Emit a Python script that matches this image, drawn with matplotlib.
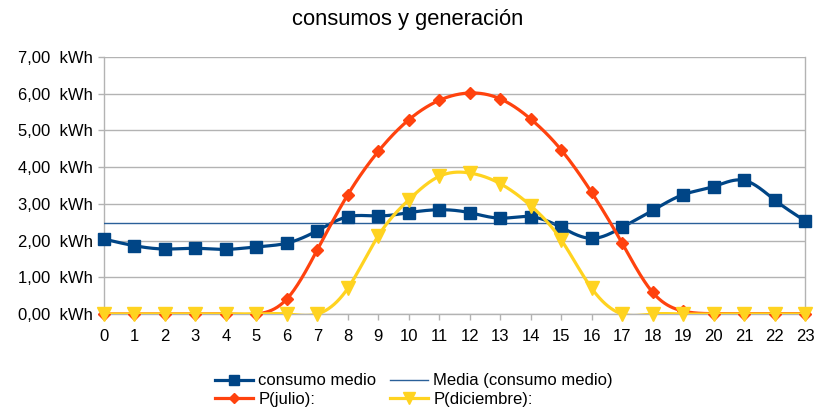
import numpy as np
import matplotlib
matplotlib.use("Agg")
import matplotlib.pyplot as plt
from matplotlib.lines import Line2D

plt.rcParams['font.family'] = ['Liberation Sans', 'DejaVu Sans']

horas = list(range(24))
consumo_medio = [2.04, 1.86, 1.77, 1.79, 1.76, 1.83, 1.93, 2.27, 2.65, 2.67, 2.76, 2.84,
                 2.76, 2.61, 2.65, 2.36, 2.06, 2.36, 2.82, 3.25, 3.47, 3.64, 3.11, 2.54]
p_julio = [0, 0, 0, 0, 0, 0, 0.41, 1.75, 3.25, 4.43, 5.29, 5.82,
           6.02, 5.86, 5.31, 4.47, 3.31, 1.93, 0.59, 0.08, 0.01, 0.01, 0.01, 0.01]
p_diciembre = [0, 0, 0, 0, 0, 0, 0, 0, 0.70, 2.13, 3.11, 3.75,
               3.84, 3.55, 2.95, 2.02, 0.70, 0, 0, 0, 0, 0, 0, 0]
y_ticks = [0, 1, 2, 3, 4, 5, 6, 7]


def natural_spline(x, y, xs):
    x = np.asarray(x, float)
    y = np.asarray(y, float)
    n = len(x)
    h = np.diff(x)
    A = np.zeros((n, n))
    b = np.zeros(n)
    A[0, 0] = 1
    A[-1, -1] = 1
    for i in range(1, n - 1):
        A[i, i - 1] = h[i - 1]
        A[i, i] = 2 * (h[i - 1] + h[i])
        A[i, i + 1] = h[i]
        b[i] = 6 * ((y[i + 1] - y[i]) / h[i] - (y[i] - y[i - 1]) / h[i - 1])
    M = np.linalg.solve(A, b)
    idx = np.clip(np.searchsorted(x, xs) - 1, 0, n - 2)
    x0, x1 = x[idx], x[idx + 1]
    hh = x1 - x0
    t0 = x1 - xs
    t1 = xs - x0
    return (M[idx] * t0 ** 3 / (6 * hh) + M[idx + 1] * t1 ** 3 / (6 * hh)
            + (y[idx] / hh - M[idx] * hh / 6) * t0
            + (y[idx + 1] / hh - M[idx + 1] * hh / 6) * t1)


fig = plt.figure(figsize=(8.15, 4.12), dpi=100)
ax = fig.add_axes([104 / 815, 1 - 314 / 412, (805 - 104) / 815, (314 - 57) / 412])

xs = np.linspace(0, 23, 1000)
c_blue = '#004586'
c_media = '#2a6099'
c_orange = '#ff420e'
c_yellow = '#ffd320'

media = float(np.mean(consumo_medio))

ax.plot(xs, natural_spline(horas, consumo_medio, xs), color=c_blue, lw=2.3, zorder=3)
ax.plot(horas, consumo_medio, ls='none', marker='s', ms=8.5, color=c_blue, zorder=4, clip_on=False)
ax.axhline(media, color=c_media, lw=1.0, zorder=3)
ax.plot(xs, natural_spline(horas, p_julio, xs), color=c_orange, lw=2.3, zorder=5)
ax.plot(horas, p_julio, ls='none', marker='D', ms=6.5, color=c_orange, zorder=6, clip_on=False)
ax.plot(xs, natural_spline(horas, p_diciembre, xs), color=c_yellow, lw=2.3, zorder=7)
ax.plot(horas, p_diciembre, ls='none', marker='v', ms=9.5, color=c_yellow, zorder=8, clip_on=False)

ax.set_xlim(0, 23)
ax.set_ylim(0, 7)
ax.set_xticks(horas)
ax.set_xticklabels([str(h) for h in horas])
ax.set_yticks(y_ticks)
ax.set_yticklabels([f"{v},00  kWh" for v in y_ticks])
ax.grid(axis='y', color='#b3b3b3', lw=1.0)
ax.set_axisbelow(True)
ax.spines['top'].set_visible(False)
for s in ['left', 'bottom', 'right']:
    ax.spines[s].set_color('#b3b3b3')
    ax.spines[s].set_linewidth(1.0)
ax.tick_params(axis='both', length=4, width=1, color='#b3b3b3', labelsize=12,
               labelcolor='#000000')
ax.tick_params(axis='y', pad=4)
ax.tick_params(axis='x', pad=7)

fig.text(0.5, 1 - 20 / 412, 'consumos y generación', ha='center', va='center', fontsize=15.8)

handles = [
    Line2D([], [], color=c_blue, lw=2.3, marker='s', ms=7),
    Line2D([], [], color=c_orange, lw=2.3, marker='D', ms=5.5),
    Line2D([], [], color=c_media, lw=1.0),
    Line2D([], [], color=c_yellow, lw=2.3, marker='v', ms=8),
]
labels = ['consumo medio', 'P(julio):', 'Media (consumo medio)', 'P(diciembre):']
fig.legend(handles, labels, ncol=2, loc='center', bbox_to_anchor=(414 / 815, 1 - 390 / 412),
           frameon=False, fontsize=12, handlelength=2.3, handletextpad=0.3,
           columnspacing=0.8, labelspacing=0.2, borderpad=0)

fig.savefig('out.png', dpi=100)
